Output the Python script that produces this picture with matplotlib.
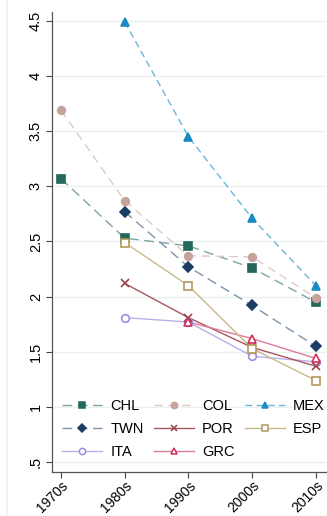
import matplotlib.pyplot as plt
from matplotlib.lines import Line2D

# decades on the x axis
decades = ["1970s", "1980s", "1990s", "2000s", "2010s"]
x_pos = [0, 1, 2, 3, 4]

# series values (None = no data)
chl = [3.07, 2.53, 2.46, 2.26, 1.95]
col = [3.69, 2.87, 2.37, 2.36, 1.99]
mex = [None, 4.49, 3.45, 2.71, 2.10]
twn = [None, 2.77, 2.27, 1.92, 1.55]
por = [None, 2.12, 1.81, 1.54, 1.37]
esp = [None, 2.49, 2.10, 1.53, 1.24]
ita = [None, 1.81, 1.77, 1.46, 1.41]
grc = [None, None, 1.77, 1.62, 1.44]

y_ticks = [0.5, 1, 1.5, 2, 2.5, 3, 3.5, 4, 4.5]
y_labels = [".5", "1", "1.5", "2", "2.5", "3", "3.5", "4", "4.5"]

plt.rcParams['font.family'] = ['Liberation Sans', 'DejaVu Sans']

fig = plt.figure(figsize=(3.27, 5.16), dpi=100)
ax = fig.add_axes([0.159, 0.085, 0.838, 0.892])

# (name, values, marker color, line color, marker, filled, linestyle)
series = [
    ("CHL", chl, "#24685c", "#7fa59d", "s", True, (0, (7, 4))),
    ("TWN", twn, "#1c3d63", "#7f93aa", "D", True, (0, (7, 4))),
    ("ITA", ita, "#9a8ee0", "#b9b0ec", "o", False, "-"),
    ("COL", col, "#c7a29b", "#e2c9c5", "o", True, (0, (6, 4))),
    ("POR", por, "#9c4249", "#a9565d", "x", False, "-"),
    ("GRC", grc, "#d4305c", "#e07a93", "^", False, "-"),
    ("MEX", mex, "#1a8bc2", "#6db5da", "^", True, (0, (5, 3))),
    ("ESP", esp, "#b09a5c", "#c8b98c", "s", False, "-"),
]

handles = []
for name, vals, mc, lc, mk, filled, ls in series:
    xs = [x for x, v in zip(x_pos, vals) if v is not None]
    ys = [v for v in vals if v is not None]
    ax.plot(xs, ys, color=lc, linestyle=ls, linewidth=1.0, zorder=2)
    face = mc if filled else "white"
    ms = 5.5 if mk != "x" else 6
    ax.plot(xs, ys, linestyle="none", marker=mk, markersize=ms,
            markerfacecolor=face, markeredgecolor=mc, markeredgewidth=1.2, zorder=3)
    handles.append(Line2D([0], [0], color=lc, linestyle=ls, linewidth=1.0, marker=mk,
                          markersize=ms - 1, markerfacecolor=face,
                          markeredgecolor=mc, markeredgewidth=1.1, label=name))

ax.set_xlim(-0.14, 4.16)
ax.set_ylim(0.41, 4.58)
ax.set_xticks(x_pos)
ax.set_xticklabels(decades, rotation=45, ha="right", rotation_mode="anchor", fontsize=10)
ax.set_yticks(y_ticks)
ax.set_yticklabels(y_labels, rotation=90, va="center", fontsize=10.5)
ax.tick_params(direction="out", length=4.5, width=0.8, color="#444444", pad=2)
ax.tick_params(axis="x", pad=0)
ax.grid(axis="y", color="#e9f1f3", linewidth=1.0, zorder=0)
ax.set_axisbelow(True)
for s in ["top", "right"]:
    ax.spines[s].set_visible(False)
for s in ["left", "bottom"]:
    ax.spines[s].set_color("#555555")
    ax.spines[s].set_linewidth(0.9)

ax.legend(handles=handles, ncol=3, loc="lower left", bbox_to_anchor=(-0.01, 0.0),
          frameon=False, fontsize=10.5, handlelength=2.75, columnspacing=0.7,
          handletextpad=0.55, labelspacing=0.62)

# faint outer border line on the left like the original graph region
fig.add_artist(Line2D([0.021, 0.021], [0, 1], transform=fig.transFigure,
                      color="#eaf2f3", linewidth=1.2))

fig.savefig("out.png", dpi=100)
